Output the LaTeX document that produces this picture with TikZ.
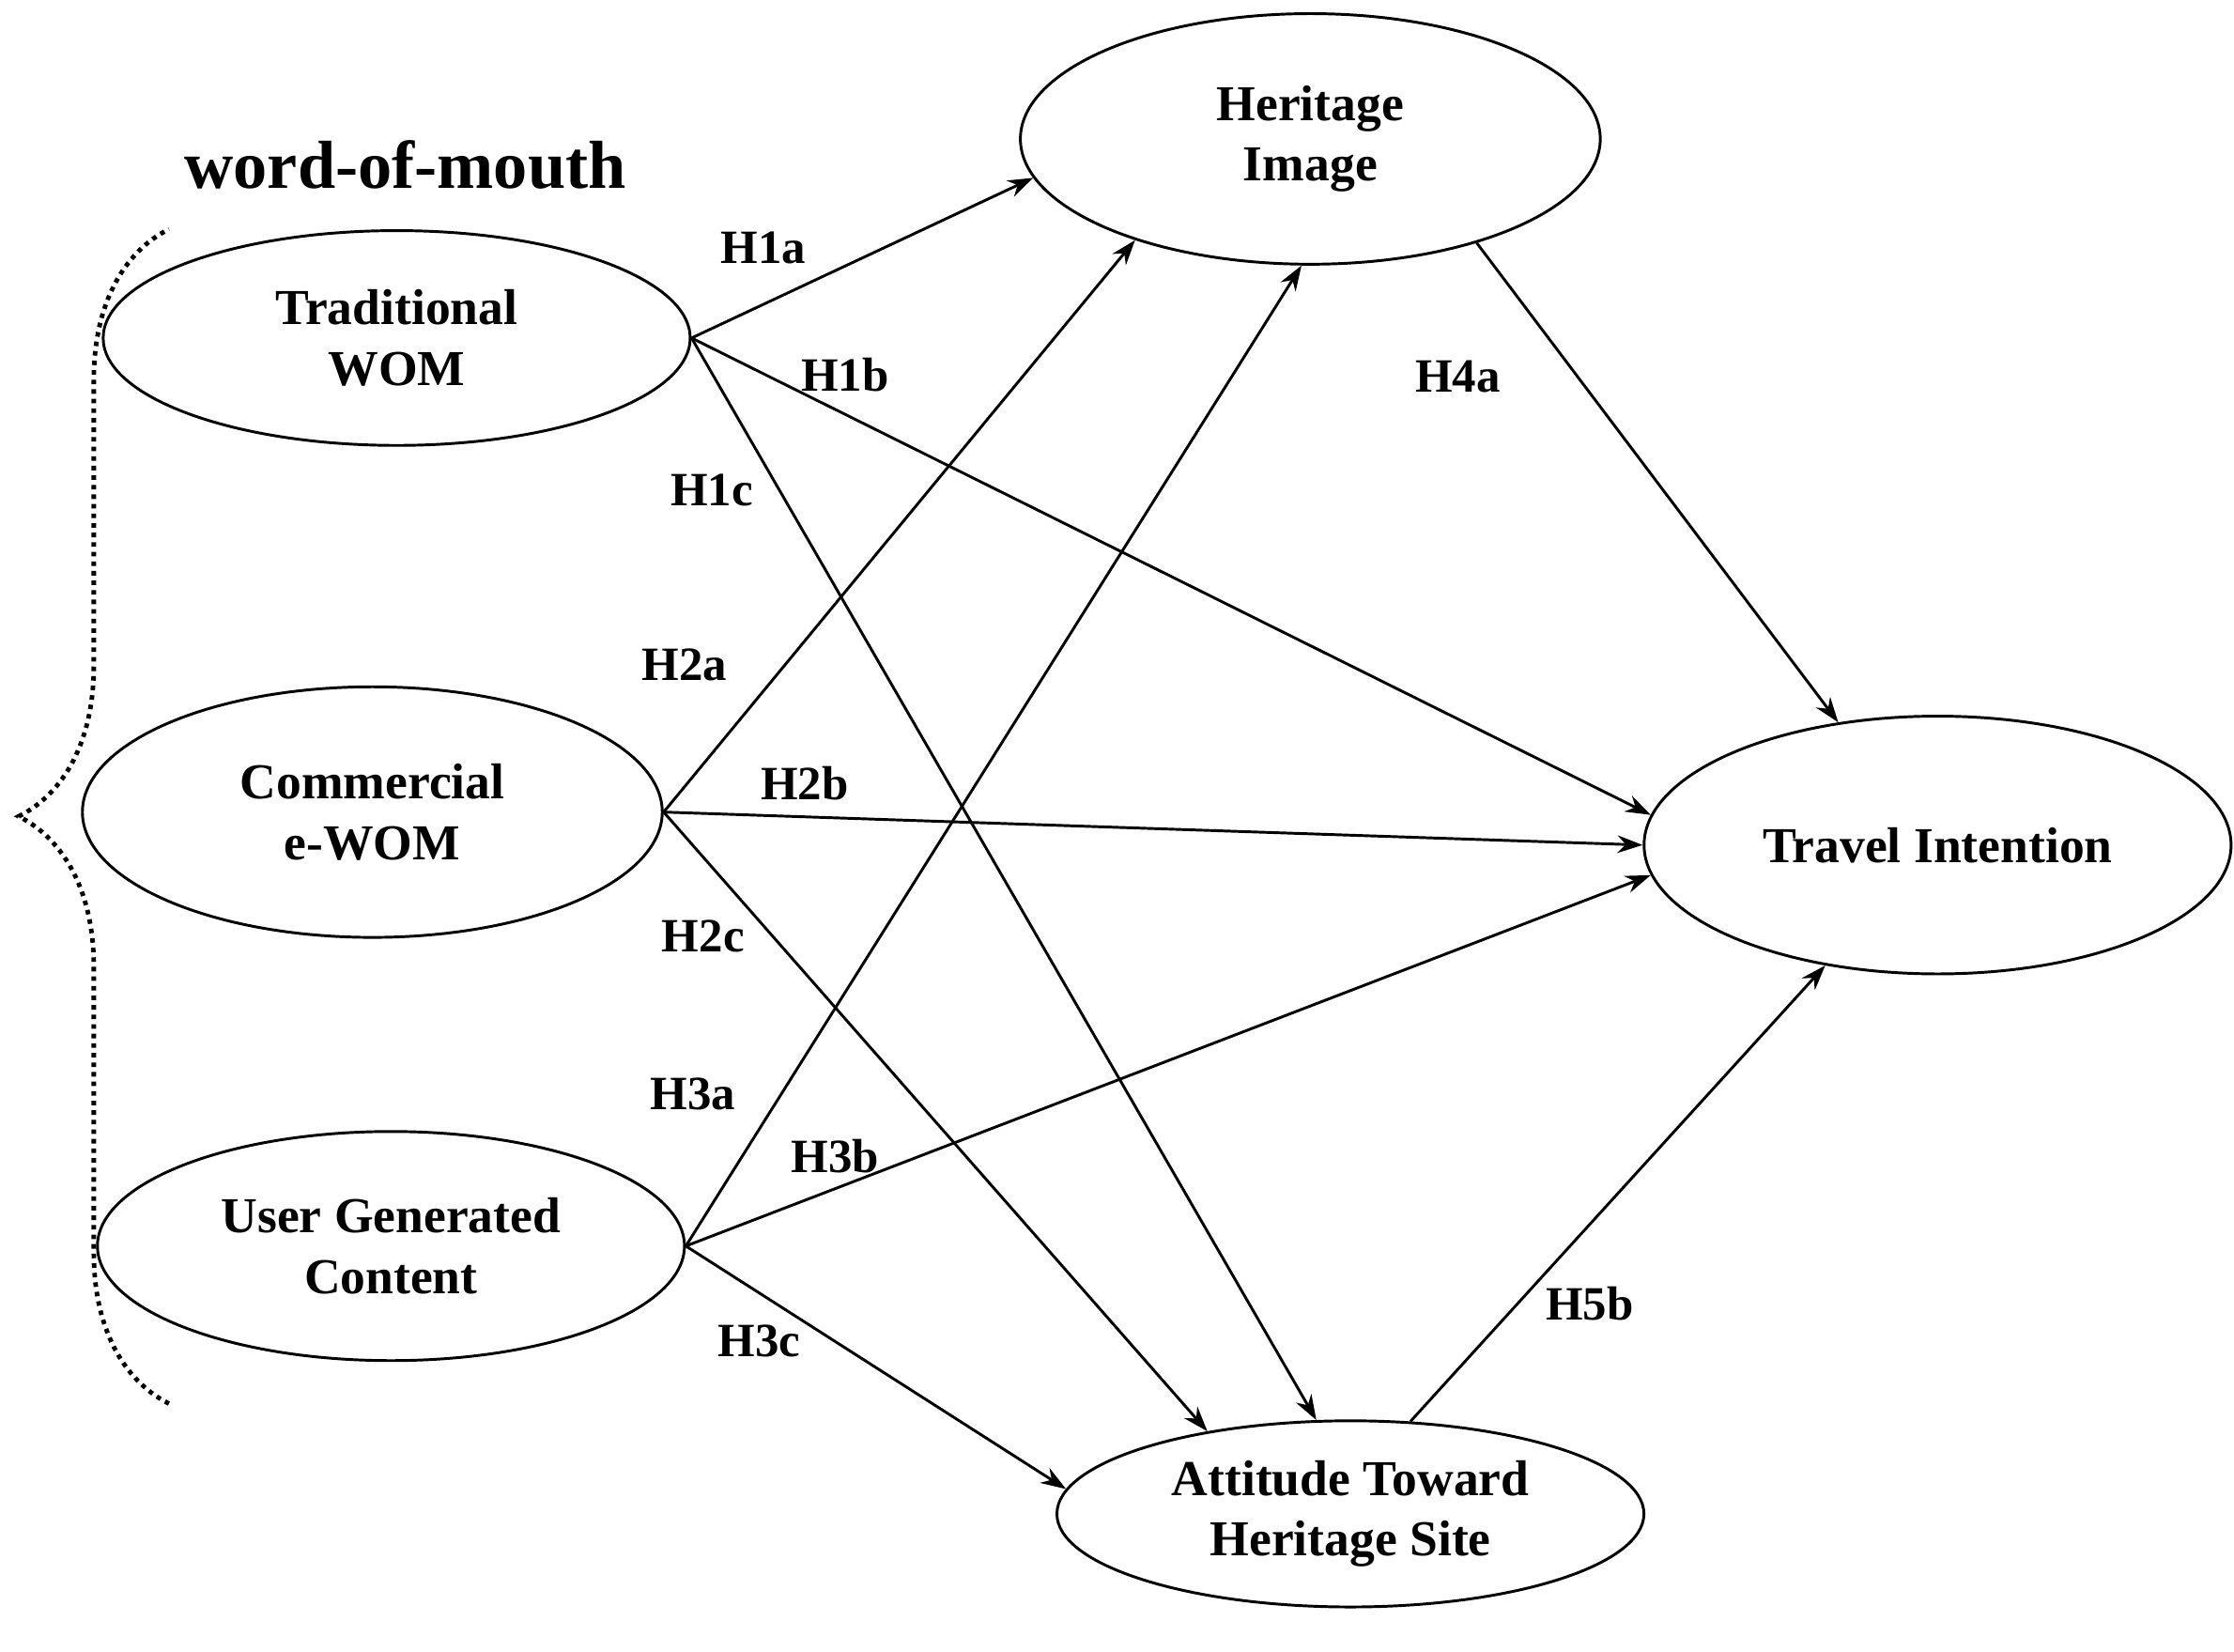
\documentclass[tikz,border=0pt]{standalone}
\usepackage{fontspec}
\setmainfont{Liberation Serif}
\usetikzlibrary{arrows.meta,shapes.geometric,decorations.pathreplacing}

\tikzset{
  construct/.style={ellipse, draw, line width=1.1pt, inner sep=0pt, align=center,
    font=\fontsize{20}{24}\selectfont\bfseries},
  path/.style={-{Stealth[length=10pt,width=7pt]}, line width=1.1pt},
  hyp/.style={font=\fontsize{19}{23}\selectfont\bfseries},
}

\begin{document}
\begin{tikzpicture}[x=0.02cm,y=-0.02cm]
  \useasboundingbox (0,0) rectangle (1560,1153);

  \node[construct, minimum width=8.1cm, minimum height=3.5cm] (hi) at (915,97) {Heritage\\Image};
  \node[construct, minimum width=8.2cm, minimum height=3cm] (tw) at (277,236) {Traditional\\WOM};
  \node[construct, minimum width=8.1cm, minimum height=3.5cm] (cw) at (260,567) {Commercial\\e-WOM};
  \node[construct, minimum width=8.2cm, minimum height=3.2cm] (ugc) at (273,870) {User Generated\\Content};
  \node[construct, minimum width=8.2cm, minimum height=3.6cm] (ti) at (1353,590) {Travel Intention};
  \node[construct, minimum width=8.2cm, minimum height=2.6cm] (att) at (943,1057) {Attitude Toward\\Heritage Site};

  \node[font=\fontsize{27}{31}\selectfont\bfseries] (wom) at (283,115) {word-of-mouth};

  % brace around the three sources
  \coordinate (bt) at (118,160);
  \coordinate (bb) at (118,980);
  \draw[dotted, line width=1.8pt, decorate, decoration={brace, amplitude=2.1cm}] (bb) -- (bt);

  % paths
  \draw[path] (tw.east) -- (hi.188);
  \draw[path] (tw.east) -- (ti.174);
  \draw[path] (tw.east) -- (att.110);
  \draw[path] (cw.east) -- (hi.210);
  \draw[path] (cw.east) -- (ti.180);
  \draw[path] (cw.east) -- (att.150);
  \draw[path] (ugc.east) -- (hi.266);
  \draw[path] (ugc.east) -- (ti.186);
  \draw[path] (ugc.east) -- (att.175);
  \draw[path] (hi.328) -- (ti.129);
  \draw[path] (att.57) -- (ti.227);

  % labels
  \node[hyp] (h1a) at (533,173) {H1a};
  \node[hyp] (h1b) at (590,262) {H1b};
  \node[hyp] (h1c) at (497,342) {H1c};
  \node[hyp] (h2a) at (478,464) {H2a};
  \node[hyp] (h2b) at (562,547) {H2b};
  \node[hyp] (h2c) at (491,654) {H2c};
  \node[hyp] (h3a) at (484,764) {H3a};
  \node[hyp] (h3b) at (583,807) {H3b};
  \node[hyp] (h3c) at (530,936) {H3c};
  \node[hyp] (h4a) at (1018,263) {H4a};
  \node[hyp] (h5b) at (1110,910) {H5b};
\end{tikzpicture}
\end{document}
